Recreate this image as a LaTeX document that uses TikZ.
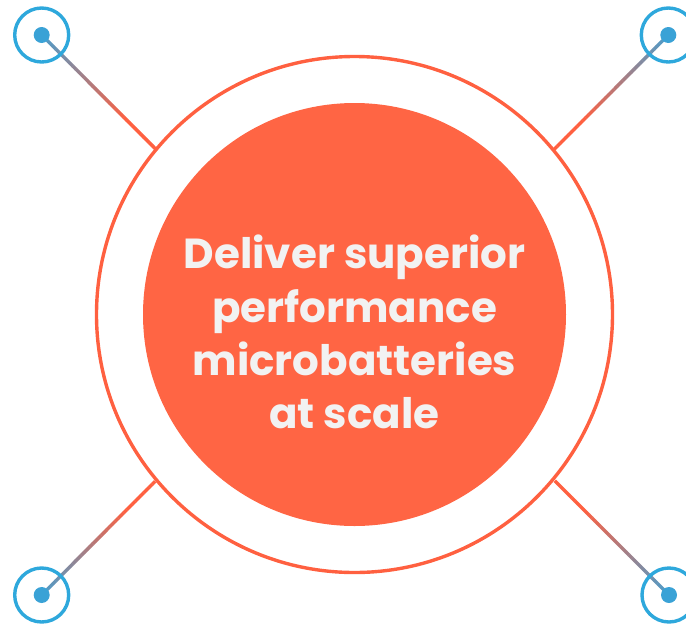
\documentclass[tikz,border=0pt]{standalone}
\usepackage{fontspec}
\setmainfont{Poppins}
\usetikzlibrary{calc}
\definecolor{ringblue}{HTML}{2EA8DC}
\definecolor{dotblue}{HTML}{3AA2D6}
\definecolor{orangeline}{HTML}{FF6040}
\definecolor{orangefill}{HTML}{FF6544}
\definecolor{textwhite}{HTML}{F2F2F2}
\definecolor{gradblue}{HTML}{4A9DCC}
\tikzset{
  ring/.style={circle, draw=ringblue, line width=3.4pt, minimum size=54pt, inner sep=0pt},
  hub/.style={circle, fill=dotblue, minimum size=16pt, inner sep=0pt},
}
\begin{document}
\begin{tikzpicture}[x=1pt,y=-1pt]
\useasboundingbox (0,0) rectangle (686,625);
% end points on the big ring
\coordinate (etl) at (155,148.4);
\coordinate (etr) at (554.5,149);
\coordinate (ebl) at (155,481.5);
\coordinate (ebr) at (555,481);
% dots
\coordinate (ptl) at (41.7,35);
\coordinate (ptr) at (668.3,35);
\coordinate (pbl) at (41.7,595);
\coordinate (pbr) at (669,595);
% gradient connectors
\foreach \s/\e in {ptl/etl, ptr/etr, pbl/ebl, pbr/ebr} {
  \foreach \i in {0,...,39} {
    \pgfmathsetmacro\p{min(100,100*(\i+0.5)/40*1.33)}
    \draw[line width=3.4pt, color=orangeline!\p!gradblue]
      ($(\s)!{\i/40}!(\e)$) -- ($(\s)!{(\i+1.05)/40}!(\e)$);
  }
}
\node[ring] (rtl) at (ptl) {};
\node[ring] (rtr) at (ptr) {};
\node[ring] (rbl) at (pbl) {};
\node[ring] (rbr) at (pbr) {};
\node[hub] (dtl) at (ptl) {};
\node[hub] (dtr) at (ptr) {};
\node[hub] (dbl) at (pbl) {};
\node[hub] (dbr) at (pbr) {};
\node[circle, draw=orangeline, line width=3.4pt, minimum size=516pt, inner sep=0pt] (outer) at (354.5,314.5) {};
\node[circle, fill=orangefill, minimum size=423pt, inner sep=0pt] (core) at (354.5,314.5) {};
\node[text=textwhite, font=\bfseries\fontsize{42}{53.3}\selectfont, align=center] (label) at (354.5,332) {Deliver superior\\performance\\microbatteries\\at scale};
\end{tikzpicture}
\end{document}
